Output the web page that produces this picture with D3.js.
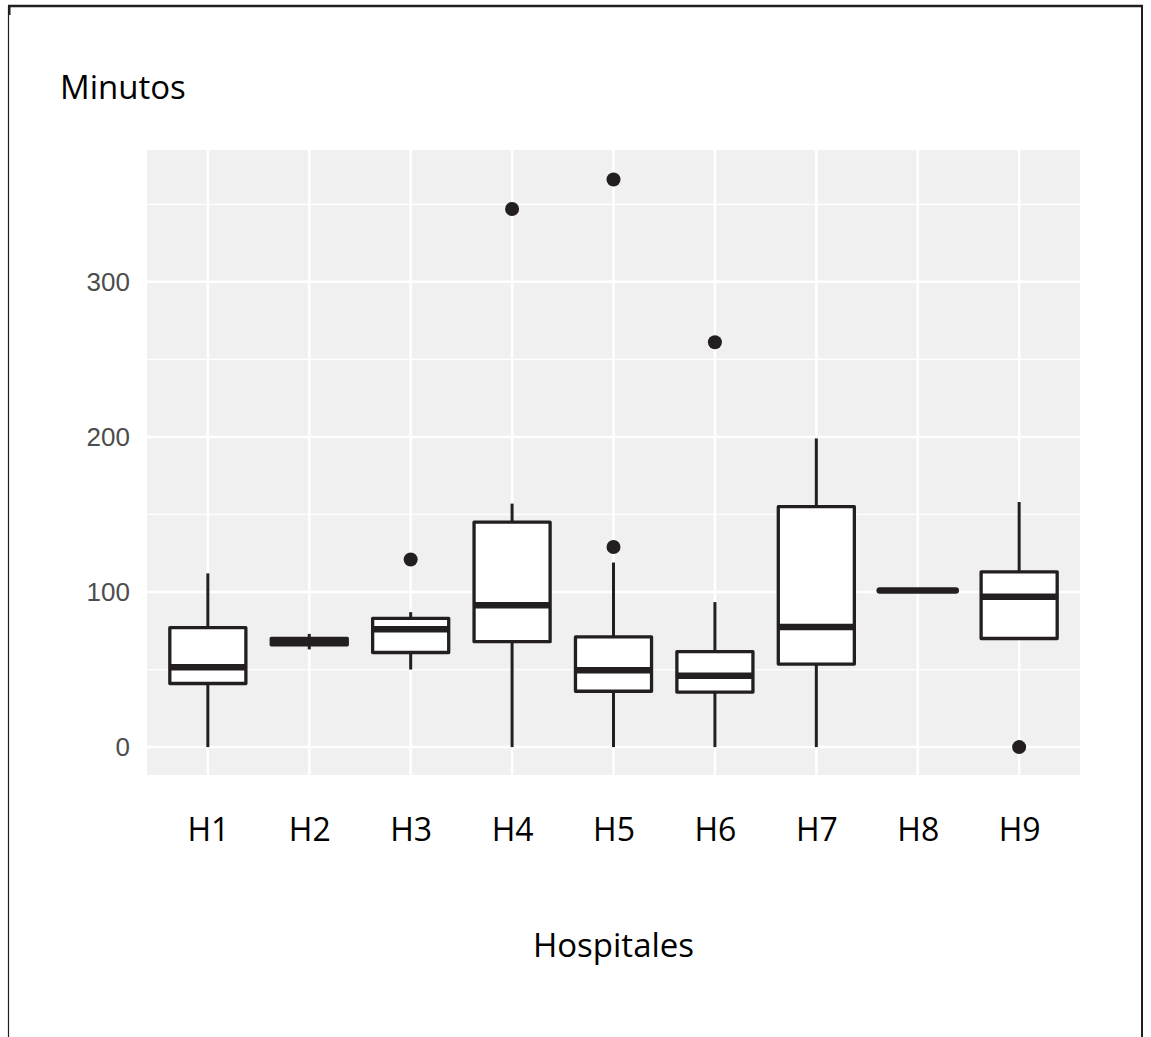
<!DOCTYPE html>
<html>
<head>
<meta charset="utf-8">
<script src="https://cdn.jsdelivr.net/npm/d3@7"></script>
<style>
  body { margin: 0; background: #fff; }
  svg { display: block; }
</style>
</head>
<body>
<svg id="chart"></svg>
<script>
// Boxplot of minutes per hospital (ggplot-like look)

const hospitals = ["H1", "H2", "H3", "H4", "H5", "H6", "H7", "H8", "H9"];
const whiskerLow = [0, 63, 50, 0, 0, 0, 0, 101, 70];
const q1 = [41, 66, 61, 68, 36, 35.5, 53.5, 101, 70];
const median = [51.5, 68, 76, 91.5, 49.5, 46, 77.5, 101, 97];
const q3 = [77, 70, 83, 145, 71, 61.5, 155, 101, 113];
const whiskerHigh = [112, 73, 87, 157, 119, 93.5, 199, 101, 158];
const outlierHosp = ["H3", "H4", "H5", "H5", "H6", "H9"];
const outlierVal = [121, 347, 129, 366, 261, 0];
const yTicks = [0, 100, 200, 300];
const yMinor = [50, 150, 250, 350];

const width = 1151;
const height = 1037;
const panel = { left: 147, right: 1080, top: 150, bottom: 775 };
const ink = "#231f20";

const svg = d3.select("#chart").attr("width", width).attr("height", height);

const x = d3.scalePoint()
  .domain(hospitals)
  .range([panel.left, panel.right])
  .padding(0.6);

const y = d3.scaleLinear()
  .domain([-18, 385])
  .range([panel.bottom, panel.top]);

const boxW = x.step() * 0.75;

// frame round the picture
svg.append("line").attr("x1", 8).attr("x2", 1143).attr("y1", 6).attr("y2", 6)
  .attr("stroke", ink).attr("stroke-width", 2.5);
svg.append("line").attr("x1", 8.5).attr("x2", 8.5).attr("y1", 6).attr("y2", height)
  .attr("stroke", ink).attr("stroke-width", 1.2);
svg.append("line").attr("x1", 9.5).attr("x2", 9.5).attr("y1", 6).attr("y2", 15)
  .attr("stroke", ink).attr("stroke-width", 2);
svg.append("line").attr("x1", 1142).attr("x2", 1142).attr("y1", 6).attr("y2", height)
  .attr("stroke", ink).attr("stroke-width", 2);

// panel
svg.append("rect")
  .attr("x", panel.left).attr("y", panel.top)
  .attr("width", panel.right - panel.left).attr("height", panel.bottom - panel.top)
  .attr("fill", "#f0f0f0");

const grid = svg.append("g");
grid.selectAll(".minor").data(yMinor).enter().append("line")
  .attr("x1", panel.left).attr("x2", panel.right)
  .attr("y1", d => y(d)).attr("y2", d => y(d))
  .attr("stroke", "#fff").attr("stroke-width", 1.3);
grid.selectAll(".major").data(yTicks).enter().append("line")
  .attr("x1", panel.left).attr("x2", panel.right)
  .attr("y1", d => y(d)).attr("y2", d => y(d))
  .attr("stroke", "#fff").attr("stroke-width", 2.5);
grid.selectAll(".vert").data(hospitals).enter().append("line")
  .attr("x1", d => x(d)).attr("x2", d => x(d))
  .attr("y1", panel.top).attr("y2", panel.bottom)
  .attr("stroke", "#fff").attr("stroke-width", 2.5);

// axes
const yAxis = svg.append("g")
  .attr("transform", `translate(${panel.left},0)`)
  .call(d3.axisLeft(y).tickValues(yTicks).tickSize(0).tickPadding(17));
yAxis.select(".domain").remove();
yAxis.selectAll("text")
  .attr("fill", "#4d4d4d")
  .style("font-family", "'Liberation Sans', Arial, sans-serif")
  .style("font-size", "26px");

const xAxis = svg.append("g")
  .attr("transform", `translate(0,${panel.bottom})`)
  .call(d3.axisBottom(x).tickSize(0).tickPadding(43));
xAxis.select(".domain").remove();
xAxis.selectAll("text")
  .attr("fill", "#000")
  .style("font-family", "'Open Sans', sans-serif")
  .style("font-size", "32px");

// boxes
const data = hospitals.map((h, i) => ({
  h, lo: whiskerLow[i], q1: q1[i], med: median[i], q3: q3[i], hi: whiskerHigh[i]
}));

const boxes = svg.append("g").selectAll("g").data(data).enter().append("g");

boxes.append("line")
  .attr("x1", d => x(d.h)).attr("x2", d => x(d.h))
  .attr("y1", d => y(d.hi)).attr("y2", d => y(d.q3))
  .attr("stroke", ink).attr("stroke-width", 3);
boxes.append("line")
  .attr("x1", d => x(d.h)).attr("x2", d => x(d.h))
  .attr("y1", d => y(d.q1)).attr("y2", d => y(d.lo))
  .attr("stroke", ink).attr("stroke-width", 3);
boxes.append("rect")
  .attr("x", d => x(d.h) - boxW / 2)
  .attr("width", boxW)
  .attr("y", d => y(d.q3))
  .attr("height", d => y(d.q1) - y(d.q3))
  .attr("fill", "#fff")
  .attr("stroke", ink).attr("stroke-width", 3.3)
  .attr("stroke-linejoin", "round");
boxes.append("line")
  .attr("x1", d => x(d.h) - boxW / 2).attr("x2", d => x(d.h) + boxW / 2)
  .attr("y1", d => y(d.med)).attr("y2", d => y(d.med))
  .attr("stroke", ink).attr("stroke-width", 6.5)
  .attr("stroke-linecap", d => d.q1 === d.q3 ? "round" : "butt");

// outliers
svg.append("g").selectAll("circle").data(outlierVal).enter().append("circle")
  .attr("cx", (d, i) => x(outlierHosp[i]))
  .attr("cy", d => y(d))
  .attr("r", 7)
  .attr("fill", ink);

// titles
svg.append("text")
  .attr("x", 60).attr("y", 99)
  .style("font-family", "'Open Sans', sans-serif")
  .style("font-size", "33px")
  .text("Minutos");

svg.append("text")
  .attr("x", x("H5")).attr("y", 957)
  .attr("text-anchor", "middle")
  .style("font-family", "'Open Sans', sans-serif")
  .style("font-size", "33px")
  .text("Hospitales");
</script>
</body>
</html>
